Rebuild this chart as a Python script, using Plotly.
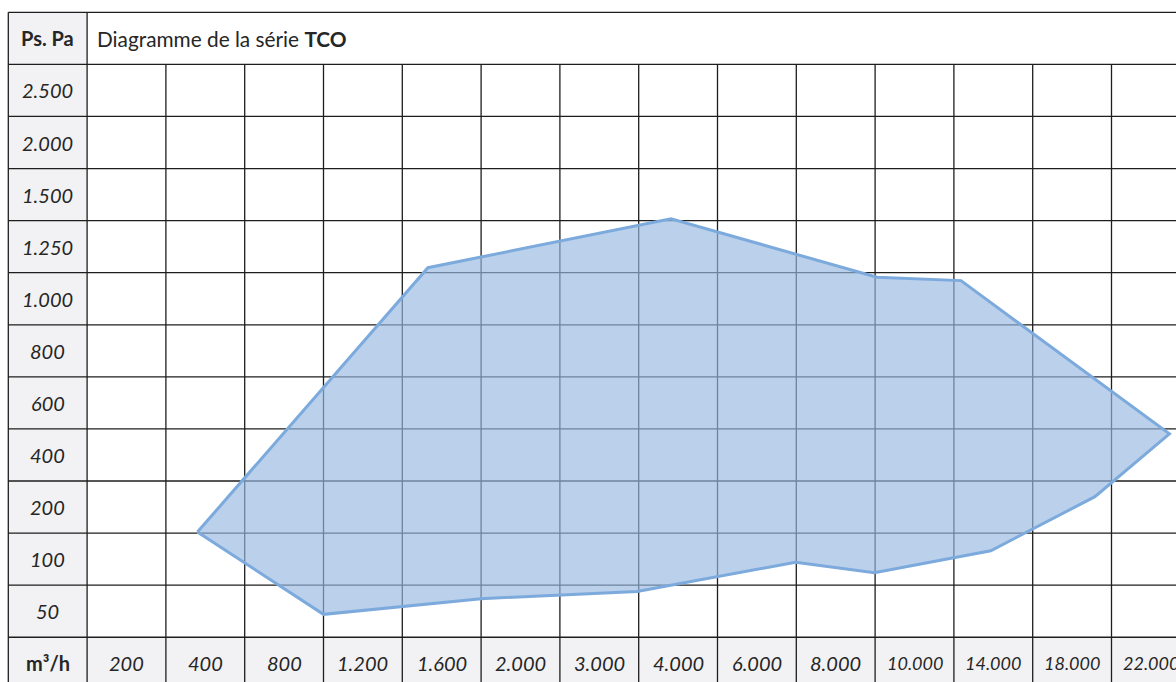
import numpy as np
import plotly.graph_objects as go

# ---- categories / tick labels -------------------------------------------
flow_labels = ["200", "400", "800", "1.200", "1.600", "2.000", "3.000", "4.000",
               "6.000", "8.000", "10.000", "14.000", "18.000", "22.000"]
flow_values = [200, 400, 800, 1200, 1600, 2000, 3000, 4000,
               6000, 8000, 10000, 14000, 18000, 22000]
pressure_labels = ["50", "100", "200", "400", "600", "800", "1.000",
                   "1.250", "1.500", "2.000", "2.500"]
pressure_values = [50, 100, 200, 400, 600, 800, 1000, 1250, 1500, 2000, 2500]

# ---- operating envelope of the TCO series (m3/h, Pa) -----------------------
envelope_flow = [380, 1000, 1800, 3480, 6980, 8980, 13870, 19160, 22940,
                 12360, 9050, 3910, 1530]
envelope_pressure = [152, 47, 62, 69, 97, 87, 116, 240, 481,
                     1087, 1103, 1384, 1149]

title_text = "Diagramme de la série <b>TCO</b>"
y_header = "<b>Ps. Pa</b>"
x_header = "<b>m³/h</b>"

FONT = "Lato"
TXT = "#262626"
GRID = "#1e1e1e"
GRAYCELL = "#f2f2f4"


def to_index(v, ref):
    """piecewise-linear position of a value on the (non-uniform) label scale"""
    ref = np.asarray(ref, float)
    idx = np.arange(len(ref), dtype=float)
    v = np.asarray(v, float)
    out = np.interp(v, ref, idx)
    lo = v < ref[0]
    out[lo] = (v[lo] - ref[0]) / (ref[1] - ref[0])
    hi = v > ref[-1]
    out[hi] = idx[-1] + (v[hi] - ref[-1]) / (ref[-1] - ref[-2])
    return out


ncol = len(flow_labels)
nrow = len(pressure_labels)

px_ = to_index(envelope_flow, flow_values)
py_ = to_index(envelope_pressure, pressure_values)
px_ = np.append(px_, px_[0])
py_ = np.append(py_, py_[0])

fig = go.Figure()
fig.add_trace(go.Scatter(
    x=px_, y=py_, mode="lines", fill="toself",
    fillcolor="rgba(150,184,224,0.66)",
    line=dict(color="#7caadc", width=3),
    hoverinfo="skip", showlegend=False,
))

shapes = []
# grey label column and bottom label row
shapes.append(dict(type="rect", xref="x", yref="y", x0=-1.5, x1=-0.5,
                   y0=-1.5, y1=nrow + 0.5, fillcolor=GRAYCELL,
                   line=dict(width=0), layer="below"))
shapes.append(dict(type="rect", xref="x", yref="y", x0=-0.5, x1=ncol - 0.5,
                   y0=-1.5, y1=-0.5, fillcolor=GRAYCELL,
                   line=dict(width=0), layer="below"))
# horizontal rules
for k in range(nrow + 3):
    yy = -1.5 + k
    shapes.append(dict(type="line", xref="x", yref="y", x0=-1.5, x1=ncol + 0.5,
                       y0=yy, y1=yy, line=dict(color=GRID, width=1.3),
                       layer="below"))
# vertical rules
for k in range(ncol + 2):
    xx = -1.5 + k
    top = nrow + 0.5 if k <= 1 else nrow - 0.5
    shapes.append(dict(type="line", xref="x", yref="y", x0=xx, x1=xx,
                       y0=-1.5, y1=top, line=dict(color=GRID, width=1.3),
                       layer="below"))

ann = []
for i, lab in enumerate(pressure_labels):
    ann.append(dict(x=-1, y=i, xref="x", yref="y", text=f"<i>{lab}</i>",
                    showarrow=False, font=dict(family=FONT, size=20, color=TXT)))
for j, lab in enumerate(flow_labels):
    sz = 18 if len(lab) > 5 else 20
    ann.append(dict(x=j, y=-1, xref="x", yref="y", text=f"<i>{lab}</i>",
                    showarrow=False, font=dict(family=FONT, size=sz, color=TXT)))
ann.append(dict(x=-1, y=nrow, xref="x", yref="y", text=y_header, showarrow=False,
                font=dict(family=FONT, size=20, color=TXT)))
ann.append(dict(x=-1, y=-1, xref="x", yref="y", text=x_header, showarrow=False,
                font=dict(family=FONT, size=20, color=TXT)))
ann.append(dict(x=-0.5, y=nrow, xref="x", yref="y", text=title_text,
                showarrow=False, xanchor="left", xshift=8,
                font=dict(family=FONT, size=20.8, color=TXT)))

W, H = 1176, 682
cw, rh = 78.8, 52.08
x0 = -1.5 - 8.3 / cw
y1 = nrow + 0.5 + 12.3 / rh

fig.update_layout(
    width=W, height=H, margin=dict(l=0, r=0, t=0, b=0),
    paper_bgcolor="white", plot_bgcolor="white",
    xaxis=dict(range=[x0, x0 + W / cw], visible=False, fixedrange=True),
    yaxis=dict(range=[y1 - H / rh, y1], visible=False, fixedrange=True),
    shapes=shapes, annotations=ann, showlegend=False,
)

fig.write_html("out.html", config={"displayModeBar": False},
               post_script="document.body.style.margin='0';")
